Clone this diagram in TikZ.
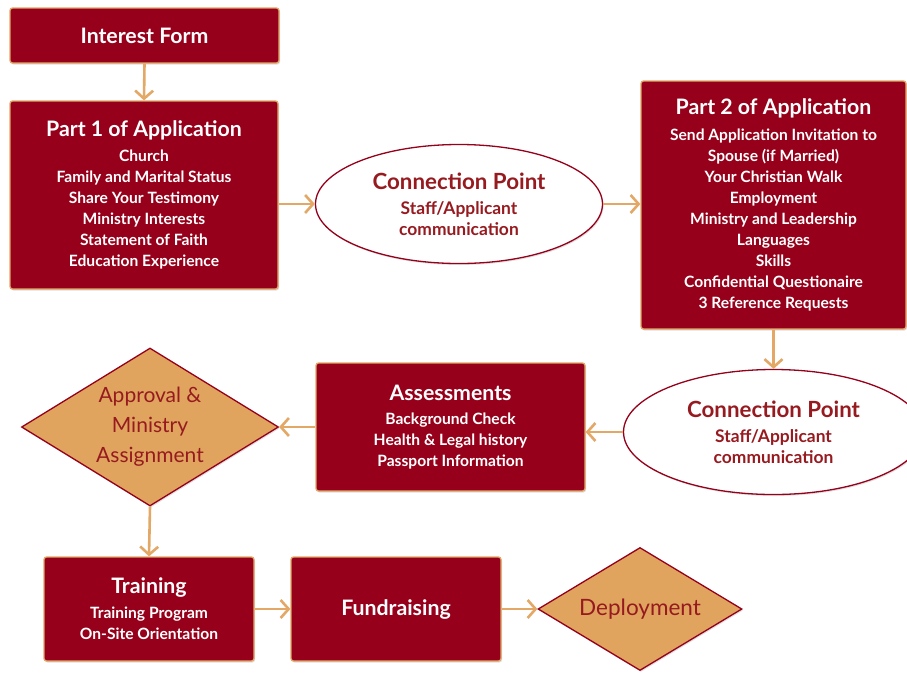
\documentclass[tikz,border=0pt]{standalone}
\usepackage{fontspec}
\setmainfont{Lato}
\usetikzlibrary{arrows.meta,shapes.geometric,shadows}
\definecolor{boxred}{HTML}{96001A}
\definecolor{edgeorange}{HTML}{E3A866}
\definecolor{diafill}{HTML}{E0A45F}
\definecolor{textred}{HTML}{961A1F}
\newcommand{\ttlfont}{\bfseries\fontsize{21.3}{21}\selectfont}
\newcommand{\cpfont}{\bfseries\fontsize{22.3}{21}\selectfont}
\begin{document}
\begin{tikzpicture}[x=1pt,y=-1pt,
  shade/.style={drop shadow={opacity=0.25,shadow xshift=1pt,shadow yshift=-1.5pt}},
  redbox/.style={draw=edgeorange, line width=1.3pt, fill=boxred, rounded corners=2.5pt,
    text=white, font=\bfseries\fontsize{15.6}{21}\selectfont, align=center, inner sep=0pt, shade},
  connell/.style={ellipse, draw=boxred, line width=1.3pt, fill=white, inner sep=0pt,
    text=textred, font=\bfseries\fontsize{17.4}{21}\selectfont, align=center, shade},
  decision/.style={diamond, draw=boxred, line width=1.3pt, fill=diafill, inner sep=0pt, aspect=1.6,
    text=textred, font=\fontsize{21}{30}\selectfont, align=center, shade},
  flow/.style={draw=edgeorange, line width=2.6pt, -{Straight Barb[length=8pt,width=18pt]}}
]
\useasboundingbox (0,0) rectangle (907,673);
\fill[white] (0,0) rectangle (907,673);

\node[redbox, minimum width=269pt, minimum height=55pt] (interest) at (144.5,35.5)
  {\ttlfont Interest Form};

\node[redbox, minimum width=268pt, minimum height=188pt] (part1) at (144,195)
  {{\ttlfont Part 1 of Application}\\[4pt]
   Church\\ Family and Marital Status\\ Share Your Testimony\\ Ministry Interests\\
   Statement of Faith\\ Education Experience};

\node[connell, minimum width=287pt, minimum height=119pt] (conn1) at (459,204)
  {{\cpfont Connection Point}\\[4pt] Staff/Applicant\\ communication};

\node[redbox, minimum width=265pt, minimum height=248pt] (part2) at (773.5,205)
  {{\ttlfont Part 2 of Application}\\[5pt]
   Send Application Invitation to\\ Spouse (if Married)\\ Your Christian Walk\\ Employment\\
   Ministry and Leadership\\ Languages\\ Skills\\ Confidential Questionaire\\ 3 Reference Requests};

\node[connell, minimum width=300pt, minimum height=125pt] (conn2) at (773.5,432)
  {{\cpfont Connection Point}\\[4pt] Staff/Applicant\\ communication};

\node[redbox, minimum width=269pt, minimum height=128pt] (assess) at (450.5,427)
  {{\ttlfont Assessments}\\[3pt]
   Background Check\\ Health \& Legal history\\ Passport Information};

\node[decision, minimum width=257pt, minimum height=158pt] (approval) at (150,427)
  {Approval \&\\ Ministry\\ Assignment};

\node[redbox, minimum width=210pt, minimum height=104pt] (training) at (149,609)
  {{\ttlfont Training}\\[4pt] Training Program\\ On-Site Orientation};

\node[redbox, minimum width=210pt, minimum height=104pt] (fund) at (396,609)
  {\ttlfont Fundraising};

\node[decision, minimum width=204pt, minimum height=123pt, font=\fontsize{22.5}{24}\selectfont] (deploy) at (640,609)
  {Deployment};

\draw[flow] (interest.south) -- (part1.north);
\draw[flow] (part1.east |- conn1.west) -- (conn1.west);
\draw[flow] (conn1.east) -- (part2.west |- conn1.east);
\draw[flow] (part2.south) -- (conn2.north);
\draw[flow] (conn2.west) -- (assess.east |- conn2.west);
\draw[flow] (assess.west) -- (approval.east);
\draw[flow] (approval.south) -- (training.north);
\draw[flow] (training.east) -- (fund.west);
\draw[flow] (fund.east) -- (deploy.west);
\end{tikzpicture}
\end{document}
